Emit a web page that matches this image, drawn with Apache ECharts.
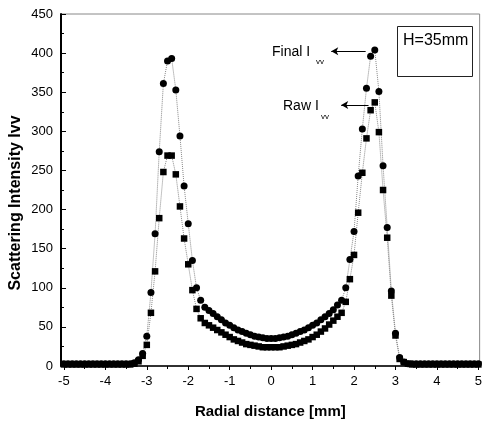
<!DOCTYPE html>
<html>
<head>
<meta charset="utf-8">
<script src="https://cdn.jsdelivr.net/npm/echarts@6/dist/echarts.min.js"></script>
<style>html,body{margin:0;padding:0;background:#fff}#c{width:485px;height:424px}</style>
</head>
<body>
<div id="c"></div>
<script>
// Radial distance [mm]
var radialX = [-5.0,-4.9,-4.8,-4.7,-4.6,-4.5,-4.4,-4.3,-4.2,-4.1,-4.0,-3.9,-3.8,-3.7,-3.6,-3.5,-3.4,-3.3,-3.2,-3.1,
  -3.0,-2.9,-2.8,-2.7,-2.6,-2.5,-2.4,-2.3,-2.2,-2.1,-2.0,-1.9,-1.8,-1.7,-1.6,-1.5,-1.4,-1.3,-1.2,-1.1,
  -1.0,-0.9,-0.8,-0.7,-0.6,-0.5,-0.4,-0.3,-0.2,-0.1,0.0,0.1,0.2,0.3,0.4,0.5,0.6,0.7,0.8,0.9,
  1.0,1.1,1.2,1.3,1.4,1.5,1.6,1.7,1.8,1.9,2.0,2.1,2.2,2.3,2.4,2.5,2.6,2.7,2.8,2.9,
  3.0,3.1,3.2,3.3,3.4,3.5,3.6,3.7,3.8,3.9,4.0,4.1,4.2,4.3,4.4,4.5,4.6,4.7,4.8,4.9,5.0];
// Final Ivv (circles)
var finalIvv = [3,3,3,3,3,3,3,3,3,3,3,3,3,3,3,3,3,4,8,16,
  38,94,169,274,361,390,393,353,294,230,182,135,100,84,75,71,67,63,59,55,
  52,49,46,44,42,40,38,37,36,35,35,35,36,37,38,40,42,44,46,49,
  52,55,59,63,67,72,78,84,100,136,172,243,303,355,396,404,351,256,177,96,
  42,11,5,3,3,3,3,3,3,3,3,3,3,3,3,3,3,3,3,3,3];
// Raw Ivv (squares)
var rawIvv = [2,2,2,2,2,2,2,2,2,2,2,2,2,2,2,2,2,3,6,13,
  27,68,121,189,248,269,269,245,204,163,130,97,73,61,55,52,49,46,43,40,
  37,34,32,30,28,27,26,25,24,24,24,24,24,25,26,27,28,30,32,34,
  37,40,44,48,53,58,63,68,82,111,142,196,247,291,327,337,299,225,164,90,
  39,9,5,3,2,2,2,2,2,2,2,2,2,2,2,2,2,2,2,2,2];
var xTickValues = [-5,-4,-3,-2,-1,0,1,2,3,4,5];
var xMinorTickValues = [-4.5,-3.5,-2.5,-1.5,-0.5,0.5,1.5,2.5,3.5,4.5];

var FONT = '"Liberation Sans", Arial, sans-serif';
function pairs(ys){ return radialX.map(function(x,i){ return [x, ys[i]]; }); }

var chart = echarts.init(document.getElementById('c'), null, {renderer:'canvas'});
chart.setOption({
  animation: false,
  backgroundColor: '#fff',
  grid: {left: 61, right: 1, top: 14, bottom: 57, show: true, borderColor: '#888', borderWidth: 1},
  xAxis: [{
    type: 'value', min: -5.07, max: 5.03,
    axisLine: {show: true, onZero: false, lineStyle: {color: '#000', width: 1.5}},
    axisTick: {show: true, inside: false, length: 4, customValues: xTickValues, lineStyle: {color: '#000', width: 1}},
    axisLabel: {show: true, customValues: xTickValues, margin: 9, color: '#000', fontSize: 13, fontFamily: FONT},
    splitLine: {show: false},
    name: 'Radial distance [mm]', nameLocation: 'middle', nameGap: 38,
    nameTextStyle: {color: '#000', fontSize: 15, fontWeight: 'bold', fontFamily: FONT}
  }, {
    type: 'value', min: -5.07, max: 5.03, position: 'bottom',
    axisLine: {show: false},
    axisTick: {show: true, inside: false, length: 3, customValues: xMinorTickValues, lineStyle: {color: '#000', width: 1}},
    axisLabel: {show: false},
    splitLine: {show: false}
  }],
  yAxis: {
    type: 'value', min: 0, max: 450, interval: 50,
    axisLine: {show: true, onZero: false, lineStyle: {color: '#000', width: 2}},
    axisTick: {show: true, inside: true, length: 5, lineStyle: {color: '#000', width: 1}},
    minorTick: {show: true, splitNumber: 2, length: 3, lineStyle: {color: '#000'}},
    axisLabel: {margin: 8, color: '#000', fontSize: 13, fontFamily: FONT},
    splitLine: {show: false}
  },
  series: [{
    name: 'Final Ivv', type: 'line', data: pairs(finalIvv),
    symbol: 'circle', symbolSize: 7, showSymbol: true,
    itemStyle: {color: '#000'},
    lineStyle: {color: '#888', width: 1, type: 'dotted'},
    markLine: {
      silent: true, symbol: ['none', 'arrow'], symbolSize: [6, 7],
      label: {show: false},
      lineStyle: {color: '#000', width: 1, type: 'solid'},
      data: [
        [{coord: [2.28, 402.5]}, {coord: [1.45, 402.5]}],
        [{coord: [2.35, 333.6]}, {coord: [1.69, 333.6]}]
      ]
    }
  }, {
    name: 'Raw Ivv', type: 'line', data: pairs(rawIvv),
    symbol: 'rect', symbolSize: 6.5, showSymbol: true,
    itemStyle: {color: '#000'},
    lineStyle: {color: '#888', width: 1, type: 'dotted'}
  }],
  graphic: [
    {type: 'text', x: 16, y: 203, rotation: Math.PI / 2,
      style: {text: 'Scattering Intensity Ivv', fill: '#000', font: 'bold 16px ' + FONT, align: 'center', verticalAlign: 'middle'}},
    {type: 'rect', shape: {x: 397.5, y: 26.5, width: 75, height: 50},
      style: {fill: '#fff', stroke: '#222', lineWidth: 1}},
    {type: 'text', x: 403, y: 33,
      style: {text: 'H=35mm', fill: '#000', font: '16px ' + FONT, align: 'left', verticalAlign: 'top'}},
    {type: 'text', x: 272, y: 52,
      style: {text: 'Final I', fill: '#000', font: '14px ' + FONT, align: 'left', verticalAlign: 'middle'}},
    {type: 'text', x: 316, y: 62,
      style: {text: 'vv', fill: '#000', font: '8px ' + FONT, align: 'left', verticalAlign: 'middle'}},
    {type: 'text', x: 283, y: 106,
      style: {text: 'Raw I', fill: '#000', font: '14px ' + FONT, align: 'left', verticalAlign: 'middle'}},
    {type: 'text', x: 321, y: 117,
      style: {text: 'vv', fill: '#000', font: '8px ' + FONT, align: 'left', verticalAlign: 'middle'}}
  ]
});
</script>
</body>
</html>
